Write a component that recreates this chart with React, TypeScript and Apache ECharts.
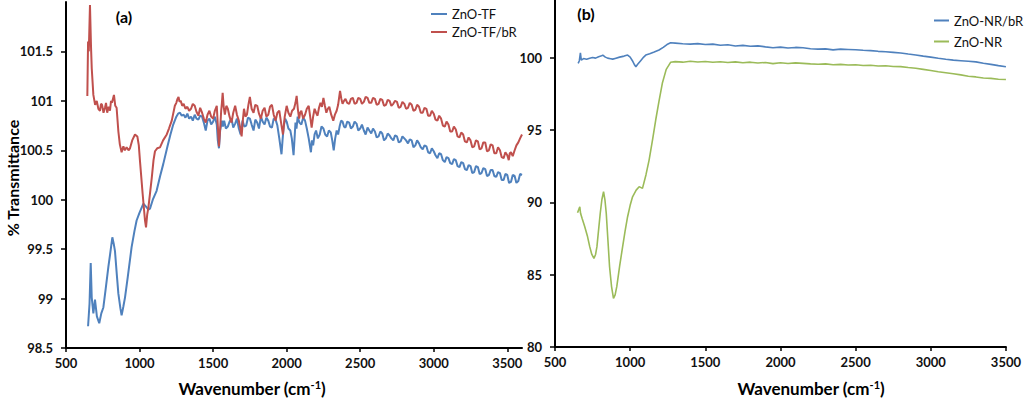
import React, { useEffect, useRef } from 'react';
import * as echarts from 'echarts';

const xTicks = [500, 1000, 1500, 2000, 2500, 3000, 3500];
const yTicksA = [98.5, 99, 99.5, 100, 100.5, 101, 101.5];
const yTicksB = [80, 85, 90, 95, 100];

const seriesNamesA = ['ZnO-TF', 'ZnO-TF/bR'];
const seriesNamesB = ['ZnO-NR/bR', 'ZnO-NR'];

const znoTF: [number, number][] = [
  [650, 98.72], [660, 98.95], [668, 99.36], [675, 99.01], [686, 98.85], [697, 98.99], [710, 98.82], [726, 98.75],
  [740, 98.85], [754, 98.91], [770, 99.1], [788, 99.32], [800, 99.45], [815, 99.62], [825, 99.55], [833, 99.48],
  [845, 99.25], [856, 99.05], [870, 98.9], [878, 98.83], [890, 98.92], [901, 99.01], [920, 99.22], [946, 99.52],
  [965, 99.68], [980, 99.79], [1000, 99.87], [1026, 99.96], [1044, 99.93], [1060, 99.9], [1071, 99.91], [1090, 100.0],
  [1116, 100.09], [1140, 100.24], [1161, 100.36], [1190, 100.54], [1210, 100.66], [1229, 100.76],
  [1250, 100.84], [1262, 100.87], [1275, 100.88], [1287, 100.85], [1300, 100.86], [1312, 100.83], [1325, 100.87],
  [1337, 100.82], [1350, 100.84], [1362, 100.8], [1375, 100.86], [1387, 100.82], [1400, 100.81], [1412, 100.85],
  [1425, 100.84], [1437, 100.78], [1450, 100.7], [1462, 100.8], [1475, 100.82], [1487, 100.76], [1500, 100.79],
  [1512, 100.84], [1525, 100.76], [1532, 100.6], [1540, 100.52], [1548, 100.7], [1560, 100.8], [1567, 100.74],
  [1575, 100.8], [1587, 100.72], [1600, 100.74], [1612, 100.79], [1625, 100.82], [1637, 100.73], [1650, 100.77],
  [1662, 100.82], [1675, 100.72], [1687, 100.66], [1700, 100.8], [1712, 100.74], [1725, 100.75], [1737, 100.83],
  [1750, 100.82], [1762, 100.76], [1775, 100.7], [1787, 100.81], [1800, 100.78], [1812, 100.72], [1825, 100.84],
  [1837, 100.79], [1850, 100.76], [1862, 100.83], [1875, 100.8], [1887, 100.74], [1900, 100.73], [1912, 100.82],
  [1925, 100.81], [1937, 100.75], [1950, 100.62], [1965, 100.46], [1972, 100.6], [1980, 100.74], [1990, 100.82],
  [2000, 100.79], [2012, 100.72], [2025, 100.7], [2035, 100.62], [2047, 100.45], [2053, 100.6], [2060, 100.78],
  [2067, 100.72], [2075, 100.84], [2087, 100.78], [2100, 100.76], [2112, 100.83], [2125, 100.8], [2137, 100.72],
  [2150, 100.62], [2165, 100.48], [2172, 100.6], [2180, 100.55], [2190, 100.66], [2200, 100.7], [2212, 100.62],
  [2225, 100.66], [2237, 100.74], [2250, 100.72], [2262, 100.66], [2275, 100.64], [2287, 100.7], [2300, 100.68],
  [2310, 100.6], [2320, 100.5], [2330, 100.62], [2340, 100.7], [2350, 100.66], [2360, 100.74], [2370, 100.8],
  [2380, 100.79], [2390, 100.74], [2400, 100.73], [2412, 100.79], [2425, 100.78], [2437, 100.72], [2450, 100.74],
  [2462, 100.79], [2475, 100.77], [2487, 100.7], [2500, 100.72], [2512, 100.76], [2525, 100.7], [2537, 100.66],
  [2550, 100.73], [2562, 100.7], [2575, 100.67], [2587, 100.72], [2600, 100.69], [2612, 100.63], [2625, 100.64],
  [2637, 100.69], [2650, 100.67], [2662, 100.6], [2675, 100.62], [2687, 100.67], [2700, 100.65], [2712, 100.62],
  [2725, 100.6], [2737, 100.65], [2750, 100.64], [2762, 100.58], [2775, 100.59], [2787, 100.64], [2800, 100.62],
  [2812, 100.6], [2825, 100.57], [2837, 100.61], [2850, 100.6], [2862, 100.53], [2875, 100.55], [2887, 100.6],
  [2900, 100.57], [2912, 100.53], [2925, 100.51], [2937, 100.55], [2950, 100.54], [2962, 100.48], [2975, 100.47],
  [2987, 100.52], [3000, 100.49], [3012, 100.45], [3025, 100.42], [3037, 100.47], [3050, 100.46], [3062, 100.4],
  [3075, 100.38], [3087, 100.43], [3100, 100.42], [3112, 100.37], [3125, 100.36], [3137, 100.41], [3150, 100.4],
  [3162, 100.34], [3175, 100.33], [3187, 100.38], [3200, 100.37], [3212, 100.31], [3225, 100.3], [3237, 100.35],
  [3250, 100.34], [3262, 100.27], [3275, 100.28], [3287, 100.34], [3300, 100.33], [3312, 100.26], [3325, 100.27],
  [3337, 100.32], [3350, 100.31], [3362, 100.24], [3375, 100.25], [3387, 100.3], [3400, 100.3], [3412, 100.24],
  [3425, 100.23], [3437, 100.28], [3450, 100.27], [3462, 100.2], [3475, 100.2], [3487, 100.26], [3500, 100.25],
  [3512, 100.17], [3525, 100.18], [3537, 100.25], [3550, 100.24], [3562, 100.17], [3575, 100.19], [3587, 100.26],
  [3600, 100.25]
];

const znoTFbR: [number, number][] = [
  [645, 101.05], [650, 101.6], [655, 101.5], [663, 101.97], [670, 101.55], [675, 101.33], [686, 101.06], [698, 100.96],
  [709, 101.0], [720, 100.92], [731, 100.9], [738, 100.97], [745, 100.96], [755, 100.88], [765, 100.93], [772, 100.98],
  [780, 100.88], [790, 100.94], [799, 100.9], [806, 101.0], [812, 100.98], [819, 101.02], [826, 101.06], [835, 100.95],
  [844, 100.93], [856, 100.69], [866, 100.56], [878, 100.48], [890, 100.54], [900, 100.5], [912, 100.53], [925, 100.5],
  [935, 100.52], [950, 100.6], [969, 100.66], [985, 100.64], [995, 100.55], [1003, 100.39], [1021, 100.06],
  [1037, 99.79], [1044, 99.72], [1052, 99.85], [1060, 99.92], [1070, 100.05], [1083, 100.22], [1095, 100.4],
  [1105, 100.49], [1120, 100.52], [1139, 100.53], [1160, 100.6], [1185, 100.66], [1200, 100.72], [1219, 100.8],
  [1240, 100.95], [1250, 100.98], [1258, 101.02], [1265, 101.04], [1272, 100.99], [1280, 101.0], [1290, 100.95],
  [1300, 100.97], [1312, 100.92], [1325, 100.94], [1337, 100.9], [1350, 100.92], [1362, 100.97], [1375, 100.95],
  [1387, 100.89], [1400, 100.85], [1412, 100.93], [1425, 100.88], [1437, 100.82], [1450, 100.78], [1462, 100.86],
  [1475, 100.9], [1487, 100.84], [1500, 100.82], [1512, 100.9], [1525, 100.95], [1532, 100.75], [1540, 100.54],
  [1548, 100.72], [1555, 100.9], [1560, 100.98], [1565, 101.08], [1572, 100.94], [1580, 100.86], [1590, 100.95],
  [1600, 100.92], [1612, 100.84], [1625, 100.78], [1637, 100.88], [1650, 100.95], [1662, 100.86], [1675, 100.8],
  [1685, 100.72], [1694, 100.64], [1702, 100.8], [1710, 100.92], [1720, 100.84], [1730, 100.86], [1740, 100.96],
  [1750, 101.04], [1762, 100.92], [1775, 100.88], [1787, 100.96], [1800, 100.95], [1812, 100.87], [1825, 100.82],
  [1837, 100.9], [1850, 100.93], [1862, 100.84], [1875, 100.86], [1887, 100.94], [1900, 100.96], [1912, 100.86],
  [1925, 100.8], [1937, 100.88], [1950, 100.9], [1962, 100.78], [1975, 100.66], [1987, 100.84], [2000, 100.95],
  [2012, 100.88], [2025, 100.84], [2037, 100.9], [2050, 100.92], [2060, 100.98], [2068, 101.05], [2076, 100.92],
  [2085, 100.82], [2092, 100.88], [2100, 100.9], [2112, 100.82], [2125, 100.86], [2137, 100.92], [2150, 100.95],
  [2160, 100.84], [2170, 100.73], [2180, 100.84], [2190, 100.92], [2200, 100.88], [2210, 100.85], [2220, 100.93],
  [2230, 100.98], [2240, 100.94], [2250, 101.03], [2260, 100.95], [2270, 100.88], [2280, 100.92], [2290, 100.94],
  [2303, 100.86], [2317, 100.8], [2328, 100.86], [2340, 100.9], [2350, 100.96], [2363, 101.1], [2372, 101.02],
  [2380, 100.97], [2390, 101.0], [2400, 101.02], [2412, 100.98], [2425, 100.97], [2437, 101.02], [2450, 101.03],
  [2462, 100.97], [2475, 100.98], [2487, 101.03], [2500, 101.02], [2512, 100.97], [2525, 100.99], [2537, 101.04],
  [2550, 101.03], [2562, 100.98], [2575, 100.98], [2587, 101.03], [2600, 101.02], [2612, 100.96], [2625, 100.97],
  [2637, 101.02], [2650, 101.01], [2662, 100.95], [2675, 100.96], [2687, 101.01], [2700, 101.0], [2712, 100.95],
  [2725, 100.97], [2737, 101.0], [2750, 100.99], [2762, 100.93], [2775, 100.94], [2787, 100.99], [2800, 100.97],
  [2812, 100.92], [2825, 100.93], [2837, 100.98], [2850, 100.96], [2862, 100.9], [2875, 100.91], [2887, 100.96],
  [2900, 100.94], [2912, 100.88], [2925, 100.88], [2937, 100.93], [2950, 100.92], [2962, 100.85], [2975, 100.85],
  [2987, 100.9], [3000, 100.87], [3012, 100.81], [3025, 100.8], [3037, 100.85], [3050, 100.82], [3062, 100.75],
  [3075, 100.74], [3087, 100.79], [3100, 100.76], [3112, 100.69], [3125, 100.69], [3137, 100.74], [3150, 100.71],
  [3162, 100.64], [3175, 100.63], [3187, 100.68], [3200, 100.66], [3212, 100.59], [3225, 100.58], [3237, 100.63],
  [3250, 100.6], [3262, 100.53], [3275, 100.54], [3287, 100.6], [3300, 100.59], [3312, 100.51], [3325, 100.52],
  [3337, 100.58], [3350, 100.58], [3362, 100.49], [3375, 100.5], [3387, 100.56], [3400, 100.55], [3412, 100.47],
  [3425, 100.47], [3437, 100.53], [3450, 100.5], [3462, 100.43], [3475, 100.42], [3487, 100.48], [3500, 100.45],
  [3510, 100.4], [3517, 100.47], [3525, 100.48], [3537, 100.44], [3550, 100.5], [3562, 100.55], [3575, 100.58],
  [3587, 100.62], [3600, 100.66]
];

const znoNRbR: [number, number][] = [
  [654, 99.62], [662, 99.8], [669, 100.35], [675, 99.84], [690, 99.95], [710, 99.9], [731, 99.97], [750, 100.02],
  [770, 99.98], [790, 100.08], [805, 100.12], [818, 100.19], [835, 100.05], [850, 99.98], [870, 99.94], [884, 99.91],
  [900, 99.96], [930, 100.05], [960, 100.12], [983, 100.19], [1000, 100.05], [1015, 99.8], [1030, 99.5], [1038, 99.38],
  [1050, 99.55], [1070, 99.8], [1090, 100.05], [1104, 100.19], [1130, 100.28], [1160, 100.4], [1192, 100.54],
  [1220, 100.72], [1245, 100.92], [1269, 101.04], [1300, 101.02], [1350, 100.97], [1400, 100.95], [1450, 100.98],
  [1500, 100.92], [1550, 100.95], [1600, 100.87], [1650, 100.91], [1700, 100.82], [1750, 100.86], [1800, 100.8],
  [1850, 100.83], [1900, 100.76], [1950, 100.7], [2000, 100.74], [2050, 100.68], [2100, 100.72], [2150, 100.7],
  [2200, 100.63], [2250, 100.6], [2300, 100.62], [2350, 100.55], [2400, 100.6], [2450, 100.58], [2500, 100.56],
  [2550, 100.52], [2600, 100.5], [2650, 100.45], [2700, 100.42], [2750, 100.38], [2800, 100.33], [2850, 100.26],
  [2900, 100.2], [2950, 100.12], [3000, 100.05], [3050, 99.97], [3100, 99.9], [3150, 99.84], [3200, 99.8],
  [3250, 99.76], [3300, 99.72], [3350, 99.62], [3400, 99.55], [3450, 99.46], [3500, 99.38]
];

const znoNR: [number, number][] = [
  [650, 89.29], [658, 89.5], [665, 89.7], [670, 89.25], [680, 88.9], [698, 88.32], [715, 87.7], [731, 86.94],
  [745, 86.4], [759, 86.13], [770, 86.4], [779, 86.94], [790, 88.1], [801, 89.25], [812, 90.2], [823, 90.74],
  [832, 90.2], [841, 89.25], [852, 87.4], [863, 85.55], [876, 84.2], [889, 83.37], [900, 83.6], [911, 84.17],
  [930, 85.6], [950, 86.94], [966, 88.0], [983, 89.01], [1000, 89.8], [1016, 90.39], [1040, 90.85], [1060, 91.09],
  [1082, 90.97], [1105, 91.9], [1126, 92.93], [1150, 94.4], [1170, 95.7], [1192, 97.0], [1214, 98.24], [1240, 99.2],
  [1269, 99.69], [1300, 99.74], [1350, 99.7], [1400, 99.76], [1450, 99.71], [1500, 99.75], [1550, 99.69],
  [1600, 99.73], [1650, 99.68], [1700, 99.72], [1750, 99.66], [1800, 99.7], [1850, 99.64], [1900, 99.68],
  [1950, 99.6], [2000, 99.66], [2050, 99.61], [2100, 99.65], [2150, 99.62], [2200, 99.58], [2250, 99.56],
  [2300, 99.58], [2350, 99.52], [2400, 99.55], [2450, 99.5], [2500, 99.52], [2550, 99.47], [2600, 99.49],
  [2650, 99.44], [2700, 99.45], [2750, 99.4], [2800, 99.39], [2850, 99.33], [2900, 99.28], [2950, 99.2],
  [3000, 99.12], [3050, 99.04], [3100, 98.97], [3150, 98.9], [3200, 98.82], [3250, 98.73], [3300, 98.68],
  [3350, 98.61], [3400, 98.58], [3450, 98.52], [3500, 98.5]
];

const BLUE = '#4F81BD';
const RED = '#C0504D';
const GREEN = '#9BBB59';
const FONT = 'Lato';

const plain = (v: number) => String(v);

function xAxisCfg(gridIndex: number, max: number) {
  return {
    type: 'value', gridIndex, min: 500, max, interval: 500,
    axisLine: { show: true, onZero: false, lineStyle: { color: '#000', width: 2 } },
    axisTick: { show: true, length: 4, customValues: xTicks, lineStyle: { color: '#000', width: 1.5 } },
    axisLabel: { customValues: xTicks, formatter: plain, margin: 8, fontFamily: FONT, fontSize: 13, fontWeight: 'bold', color: '#111' },
    splitLine: { show: false },
  };
}

function yAxisCfg(gridIndex: number, min: number, max: number, interval: number, ticks: number[]) {
  return {
    type: 'value', gridIndex, min, max, interval,
    axisLine: { show: true, onZero: false, lineStyle: { color: '#000', width: 2 } },
    axisTick: { show: true, length: 5, customValues: ticks, lineStyle: { color: '#000', width: 1.5 } },
    axisLabel: { customValues: ticks, formatter: plain, margin: 13, fontFamily: FONT, fontSize: 13, fontWeight: 'bold', color: '#111' },
    splitLine: { show: false },
  };
}

export default function App() {
  const ref = useRef<HTMLDivElement>(null);
  useEffect(() => {
    if (!ref.current) return;
    const chart = echarts.init(ref.current, undefined, { renderer: 'svg' });
    const titleRich = {
      sup: { fontFamily: FONT, fontSize: 11, fontWeight: 'bold', fill: '#000', verticalAlign: 'top', padding: [0, 0, 8, 0] },
    };
    chart.setOption({
      animation: false,
      backgroundColor: '#fff',
      grid: [
        { left: 66, top: 2, width: 456, height: 346 },
        { left: 555, top: 0, width: 455, height: 347 },
      ],
      xAxis: [xAxisCfg(0, 3600), xAxisCfg(1, 3500)],
      yAxis: [yAxisCfg(0, 98.5, 102, 0.5, yTicksA), yAxisCfg(1, 80, 104, 5, yTicksB)],
      legend: [
        {
          data: seriesNamesA, orient: 'vertical', left: 426, top: 0, itemGap: 0,
          icon: 'rect', itemWidth: 16, itemHeight: 2,
          textStyle: { fontFamily: FONT, fontSize: 13, color: '#111', lineHeight: 18 },
        },
        {
          data: seriesNamesB, orient: 'vertical', left: 929, top: 5, itemGap: 0,
          icon: 'rect', itemWidth: 15, itemHeight: 2,
          textStyle: { fontFamily: FONT, fontSize: 13, color: '#111', lineHeight: 21 },
        },
      ],
      series: [
        { name: 'ZnO-TF', type: 'line', xAxisIndex: 0, yAxisIndex: 0, data: znoTF, showSymbol: false, symbol: 'none', lineStyle: { color: BLUE, width: 2 }, itemStyle: { color: BLUE } },
        { name: 'ZnO-TF/bR', type: 'line', xAxisIndex: 0, yAxisIndex: 0, data: znoTFbR, showSymbol: false, symbol: 'none', lineStyle: { color: RED, width: 2 }, itemStyle: { color: RED } },
        { name: 'ZnO-NR/bR', type: 'line', xAxisIndex: 1, yAxisIndex: 1, data: znoNRbR, showSymbol: false, symbol: 'none', lineStyle: { color: BLUE, width: 1.6 }, itemStyle: { color: BLUE } },
        { name: 'ZnO-NR', type: 'line', xAxisIndex: 1, yAxisIndex: 1, data: znoNR, showSymbol: false, symbol: 'none', lineStyle: { color: GREEN, width: 1.6 }, itemStyle: { color: GREEN } },
      ],
      graphic: [
        { type: 'text', x: 124, y: 16, style: { text: '(a)', font: `bold 16px ${FONT}`, fill: '#000', textAlign: 'center', textVerticalAlign: 'middle' } },
        { type: 'text', x: 586, y: 13, style: { text: '(b)', font: `bold 16px ${FONT}`, fill: '#000', textAlign: 'center', textVerticalAlign: 'middle' } },
        { type: 'text', x: 12, y: 178, rotation: Math.PI / 2, style: { text: '% Transmittance', font: `bold 16px ${FONT}`, fill: '#000', textAlign: 'center', textVerticalAlign: 'middle' } },
        { type: 'text', x: 252, y: 388, style: { text: 'Wavenumber (cm{sup|-1})', font: `bold 17px ${FONT}`, fill: '#000', textAlign: 'center', textVerticalAlign: 'middle', rich: titleRich } },
        { type: 'text', x: 811, y: 388, style: { text: 'Wavenumber (cm{sup|-1})', font: `bold 17px ${FONT}`, fill: '#000', textAlign: 'center', textVerticalAlign: 'middle', rich: titleRich } },
      ],
    });
    return () => chart.dispose();
  }, []);
  return <div ref={ref} style={{ position: 'fixed', left: 0, top: 0, width: 1024, height: 398 }} />;
}
